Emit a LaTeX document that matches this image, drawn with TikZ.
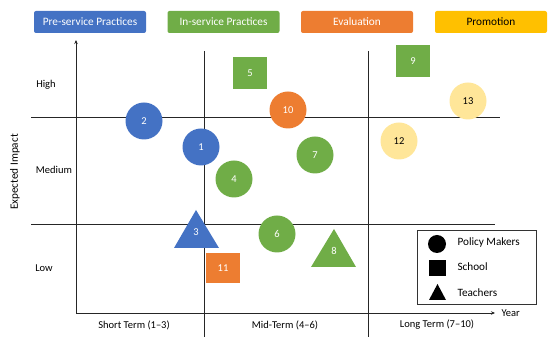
\documentclass[tikz,border=0pt]{standalone}
\usepackage{fontspec}
\setmainfont{Carlito}
\usetikzlibrary{shapes.geometric,arrows.meta}
\definecolor{cblue}{HTML}{4472C4}
\definecolor{cgreen}{HTML}{70AD47}
\definecolor{corange}{HTML}{ED7D31}
\definecolor{cyellow}{HTML}{FFC000}
\definecolor{clyellow}{HTML}{FFE699}
\begin{document}
\begin{tikzpicture}[x=1pt,y=-1pt,
  catbox/.style={draw=none,rounded corners=2pt,minimum width=112pt,minimum height=22pt,font=\fontsize{11.3}{13}\selectfont,text=white},
  circ/.style={circle,minimum size=37pt,inner sep=0pt,font=\fontsize{10.5}{12}\selectfont,text=white},
  sq/.style={rectangle,minimum width=34pt,minimum height=32pt,inner sep=0pt,font=\fontsize{10.5}{12}\selectfont,text=white},
  num/.style={text=white,font=\fontsize{10.5}{12}\selectfont},
  lbl/.style={font=\fontsize{10.5}{12}\selectfont},
  leglbl/.style={anchor=west,font=\fontsize{11.2}{13}\selectfont},
  grid/.style={line width=0.8pt,draw=black!85},
  axis/.style={line width=0.9pt,draw=black!85,-{Stealth[length=4pt,width=3.5pt]}}
]
\useasboundingbox (0,0) rectangle (550,347);
% category boxes
\node[catbox,fill=cblue] (c1) at (90,22) {Pre-service Practices};
\node[catbox,fill=cgreen] (c2) at (223.5,22) {In-service Practices};
\node[catbox,fill=corange] (c3) at (357,22) {Evaluation};
\node[catbox,fill=cyellow,text=black] (c4) at (491,22) {Promotion};
% axes
\coordinate (o) at (76,313);
\coordinate (ytop) at (76,40);
\coordinate (xend) at (495,313);
\draw[axis] (o) -- (ytop);
\draw[axis] (o) -- (xend);
\node[lbl,anchor=west] (year) at (498,313) {Year};
% grid lines
\coordinate (v1t) at (204,51); \coordinate (v1b) at (204,337);
\coordinate (v2t) at (368,51); \coordinate (v2b) at (368,337);
\coordinate (h1l) at (31,117); \coordinate (h1r) at (500,117);
\coordinate (h2l) at (31,224.5); \coordinate (h2r) at (495,224.5);
\draw[grid] (v1t) -- (v1b);
\draw[grid] (v2t) -- (v2b);
\draw[grid] (h1l) -- (h1r);
\draw[grid] (h2l) -- (h2r);
% axis labels
\node[lbl] (high) at (46,85) {High};
\node[lbl] (med) at (54,170) {Medium};
\node[lbl] (low) at (44,268) {Low};
\node[rotate=90,font=\fontsize{11.2}{13}\selectfont] (ei) at (15,172) {Expected Impact};
\node[lbl] (st) at (134,325) {Short Term (1–3)};
\node[lbl] (mt) at (285,325) {Mid-Term (4–6)};
\node[lbl] (lt) at (437,325) {Long Term (7–10)};
% shapes
\node[sq,fill=cgreen] (n5) at (250,73) {5};
\node[sq,fill=cgreen] (n9) at (413,61) {9};
\node[circ,fill=cblue] (n2) at (144,121) {2};
\node[circ,fill=cblue] (n1) at (201,147) {1};
\node[circ,fill=cgreen] (n4) at (234,179) {4};
\node[circ,fill=corange] (n10) at (288,110) {10};
\node[circ,fill=cgreen] (n7) at (315,155) {7};
\node[circ,fill=clyellow,text=black] (n13) at (468,101) {13};
\node[circ,fill=clyellow,text=black] (n12) at (399,141) {12};
\node[circ,fill=cgreen] (n6) at (277,234) {6};
\node[sq,fill=corange,minimum height=30pt] (n11) at (223,268) {11};
\fill[cblue] (196,210) -- (219,248) -- (174,248) -- cycle;
\node[num] (n3) at (196,232) {3};
\fill[cgreen] (334,229) -- (356,267) -- (311,267) -- cycle;
\node[num] (n8) at (334,251) {8};
% legend
\node[draw=black!80,line width=0.7pt,minimum width=119pt,minimum height=74pt] (leg) at (476.5,267) {};
\fill (437,244) circle (9pt);
\fill (429,260) rectangle (446,276);
\fill (437.5,284) -- (446,300) -- (429,300) -- cycle;
\node[leglbl] (lpm) at (454,243) {Policy Makers};
\node[leglbl] (lsc) at (454,267) {School};
\node[leglbl] (lte) at (454,293) {Teachers};
\end{tikzpicture}
\end{document}
